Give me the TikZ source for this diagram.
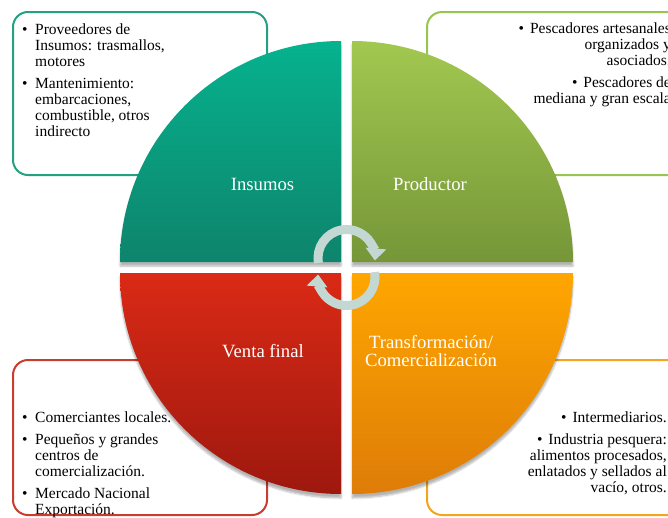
\documentclass[tikz,border=0pt]{standalone}
\usepackage{fontspec}
\setmainfont{Liberation Serif}
\usetikzlibrary{arrows.meta,shadows.blur}

\definecolor{insumosA}{RGB}{6,178,142}
\definecolor{insumosB}{RGB}{14,132,108}
\definecolor{productorA}{RGB}{162,200,80}
\definecolor{productorB}{RGB}{118,150,56}
\definecolor{ventaA}{RGB}{218,42,22}
\definecolor{ventaB}{RGB}{158,24,14}
\definecolor{transA}{RGB}{255,166,0}
\definecolor{transB}{RGB}{222,124,8}
\definecolor{bordeIns}{RGB}{38,160,130}
\definecolor{bordePro}{RGB}{152,196,82}
\definecolor{bordeVen}{RGB}{200,62,46}
\definecolor{bordeTra}{RGB}{242,166,32}
\definecolor{giroC}{RGB}{196,216,211}

\newcommand {\caja}[5] {\draw[caja,draw=#5] (#1,#2) rectangle (#3,#4);}
\newcommand {\cuarto}[6] {\path[cuarto,top color=#5,bottom color=#6] (#1,#2) -- ++(#3:221) arc[start angle=#3, end angle=#4, radius=221] -- cycle;}

\tikzset{
  caja/.style={line width=2pt, rounded corners=15pt},
  cuarto/.style={blur shadow={shadow xshift=0pt, shadow yshift=-4pt, shadow opacity=30, shadow blur steps=6}},
  rotulo/.style={text=white, inner sep=0pt, font=\fontsize{18.7}{18.5}\selectfont},
  lista/.style={inner sep=0pt, font=\fontsize{15.5}{16}\selectfont},
  giro/.style={line width=9pt, draw=giroC, -{Triangle[width=20pt,length=12pt]}}
}

\begin{document}
\begin{tikzpicture}[x=1pt,y=-1pt]
	\clip (0,0) rectangle (668,517);
	% cajas de texto
	\caja{13}{12}{267}{175}{bordeIns}
	\caja{427}{12}{690}{175}{bordePro}
	\caja{13}{360}{267}{515}{bordeVen}
	\caja{427}{360}{690}{515}{bordeTra}
	% circulo en cuatro partes
	\cuarto{341}{262}{180}{270}{insumosA}{insumosB}
	\cuarto{352}{262}{270}{360}{productorA}{productorB}
	\cuarto{352}{273}{0}{90}{transA}{transB}
	\cuarto{341}{273}{90}{180}{ventaA}{ventaB}
	\node[rotulo, anchor=base] (insumos) at (262.5,190) {Insumos};
	\node[rotulo, anchor=base] (productor) at (430,190) {Productor};
	\node[rotulo, anchor=base] (venta) at (263,357) {Venta final};
	\node[rotulo, anchor=base] (trans) at (431,348)
		{\begin{tabular}[t]{@{}c@{}}Transformación/\\Comercialización\end{tabular}};
	% ciclo
	\coordinate (ciclo1) at (346.5,258);
	\coordinate (ciclo2) at (346.5,277);
	\draw[giro] (ciclo1) ++(170:28.5) arc[start angle=170, end angle=365, radius=28.5];
	\draw[giro] (ciclo2) ++(-10:28.5) arc[start angle=-10, end angle=185, radius=28.5];
	% listas
	\node[lista, anchor=base west] (listaIns) at (22,34)
		{\begin{tabular}[t]{@{}l@{\hspace{7.6pt}}l@{}}
		\textbullet & Proveedores de\\ & Insumos: trasmallos,\\ & motores\\[6pt]
		\textbullet & Mantenimiento:\\ & embarcaciones,\\ & combustible, otros\\ & indirecto
		\end{tabular}};
	\node[lista, anchor=base east] (listaPro) at (671,33)
		{\begin{tabular}[t]{@{}r@{}}
		\textbullet\hspace{6pt}Pescadores artesanales\\ organizados y\\ asociados.\\[6pt]
		\textbullet\hspace{6pt}Pescadores de\\ mediana y gran escala
		\end{tabular}};
	\node[lista, anchor=base west] (listaVen) at (22,422)
		{\begin{tabular}[t]{@{}l@{\hspace{7.6pt}}l@{}}
		\textbullet & Comerciantes locales.\\[6pt]
		\textbullet & Pequeños y grandes\\ & centros de\\ & comercialización.\\[6pt]
		\textbullet & Mercado Nacional\\ & Exportación.
		\end{tabular}};
	\node[lista, anchor=base east] (listaTra) at (667,422)
		{\begin{tabular}[t]{@{}r@{}}
		\textbullet\hspace{6pt}Intermediarios.\\[6pt]
		\textbullet\hspace{6pt}Industria pesquera:\\ alimentos procesados,\\ enlatados y sellados al\\ vacío, otros.
		\end{tabular}};
\end{tikzpicture}
\end{document}
